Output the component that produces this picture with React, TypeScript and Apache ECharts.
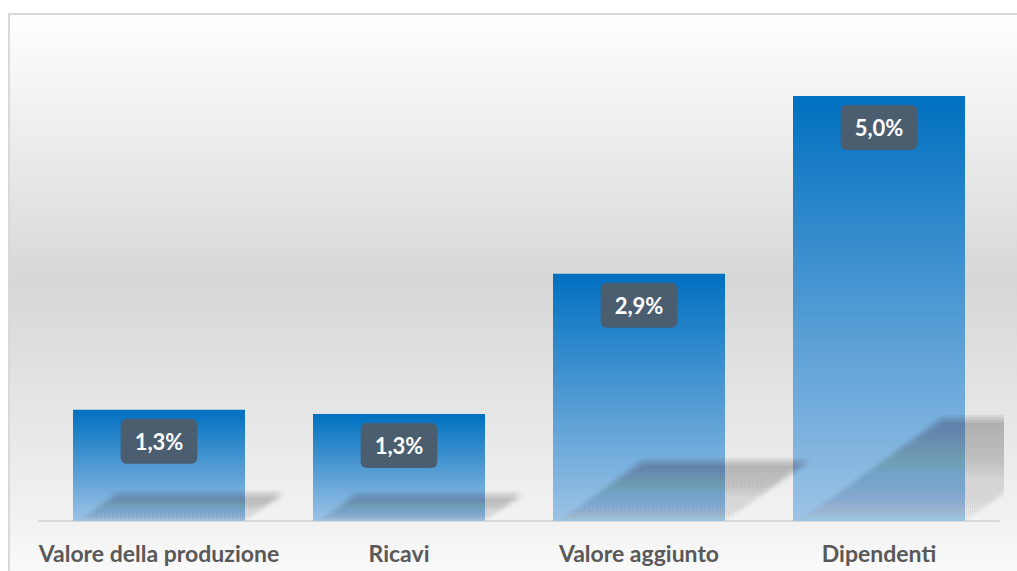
import React, { useEffect, useRef } from "react";
import * as echarts from "echarts";

const categories: string[] = ["Valore della produzione", "Ricavi", "Valore aggiunto", "Dipendenti"];
const values: number[] = [1.31, 1.26, 2.91, 5.0];

const FONT = "Lato, 'Open Sans', sans-serif";

export default function App() {
  const ref = useRef<HTMLDivElement>(null);

  useEffect(() => {
    if (!ref.current) return;
    const chart = echarts.init(ref.current, null, { renderer: "svg" });

    const barGradient = new echarts.graphic.LinearGradient(0, 0, 0, 1, [
      { offset: 0, color: "#0070C0" },
      { offset: 1, color: "#9DC3E6" },
    ]);

    const clipX = (poly: number[][], xmax: number) => {
      const out: number[][] = [];
      for (let i = 0; i < poly.length; i++) {
        const a = poly[i];
        const b = poly[(i + 1) % poly.length];
        const ain = a[0] <= xmax;
        const bin = b[0] <= xmax;
        if (ain) out.push(a);
        if (ain !== bin) {
          const t = (xmax - a[0]) / (b[0] - a[0]);
          out.push([xmax, a[1] + t * (b[1] - a[1])]);
        }
      }
      return out;
    };

    const offsets = [-4, -2, 0, 2, 4];

    const renderShadow = (params: any, api: any) => {
      const idx = api.value(0);
      const val = api.value(1);
      const top = api.coord([idx, val]);
      const base = api.coord([idx, 0]);
      const w = api.size([1, 0])[0] * 0.7167;
      const xl = top[0] - w / 2;
      const xr = top[0] + w / 2;
      const y0 = base[1];
      const H = y0 - top[1];
      const hs = 0.24 * H;
      const s = 1.4 * hs;
      const cs = params.coordSys;
      const xmax = cs.x + cs.width + 5;
      const children: any[] = [];
      for (const dx of offsets) {
        for (const dy of offsets) {
          const poly: number[][] = [
            [xl + 6 + dx, y0],
            [xr + dx, y0],
            [xr + s + dx, y0 - hs + dy],
            [xl + 6 + s + dx, y0 - hs + dy],
          ];
          children.push({
            type: "polygon",
            shape: { points: clipX(poly, xmax) },
            style: {
              fill: new echarts.graphic.LinearGradient(0, 0, 0, 1, [
                { offset: 0, color: "rgba(0,0,0,0.0125)" },
                { offset: 1, color: "rgba(0,0,0,0.002)" },
              ]),
            },
            silent: true,
          });
        }
      }
      return { type: "group", children, silent: true };
    };

    chart.setOption({
      animation: false,
      graphic: [
        {
          type: "rect",
          z: -10,
          silent: true,
          shape: { x: 9, y: 14, width: 1020, height: 570 },
          style: {
            fill: new echarts.graphic.LinearGradient(0, 0, 0, 1, [
              { offset: 0, color: "#ffffff" },
              { offset: 0.47, color: "#d7d7d7" },
              { offset: 0.89, color: "#f2f2f2" },
              { offset: 1, color: "#fcfcfc" },
            ]),
            stroke: "#d9d9d9",
            lineWidth: 2,
          },
        },
      ],
      grid: { left: 39, right: 18, top: 40, bottom: 50, containLabel: false },
      xAxis: {
        type: "category",
        data: categories,
        axisLine: { show: true, lineStyle: { color: "#d9d9d9", width: 2 } },
        axisTick: { show: false },
        axisLabel: {
          color: "#595959",
          fontWeight: "bold",
          fontSize: 23,
          fontFamily: FONT,
          margin: 20,
          interval: 0,
        },
      },
      yAxis: {
        type: "value",
        min: 0,
        max: 5.66,
        show: false,
        splitLine: { show: false },
      },
      series: [
        {
          type: "bar",
          data: values,
          barWidth: 172,
          z: 2,
          itemStyle: { color: barGradient },
        },
        {
          type: "custom",
          z: 3,
          data: values.map((v, i) => [i, v]),
          renderItem: renderShadow,
          silent: true,
        },
        {
          type: "bar",
          data: values,
          barWidth: 172,
          barGap: "-100%",
          z: 4,
          itemStyle: { color: "rgba(0,0,0,0)" },
          label: {
            show: true,
            position: "insideTop",
            distance: 9,
            formatter: (p: any) => p.value.toFixed(1).replace(".", ",") + "%",
            color: "#ffffff",
            fontWeight: "bold",
            fontSize: 22,
            lineHeight: 25,
            fontFamily: FONT,
            backgroundColor: "#4a5e70",
            borderRadius: 6,
            padding: [10, 14, 10, 14],
          },
        },
      ],
    });

    return () => chart.dispose();
  }, []);

  return (
    <div
      ref={ref}
      style={{ position: "fixed", left: 0, top: 0, width: 1017, height: 571, background: "#ffffff" }}
    />
  );
}
